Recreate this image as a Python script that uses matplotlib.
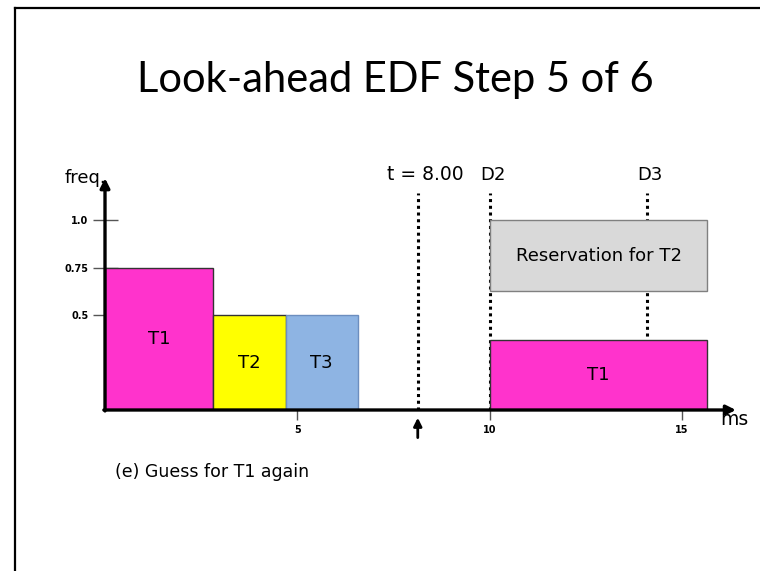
import matplotlib.pyplot as plt
from matplotlib.lines import Line2D

# data (time in ms, freq as fraction)
task_names = ["T1", "T2", "T3"]
task_starts = [0.0, 2.8, 4.7]
task_durations = [2.8, 1.9, 1.87]
task_freqs = [0.75, 0.5, 0.5]
task_colors = ["#FF33CC", "#FFFF00", "#8EB4E3"]
task_edges = ["#333333", "#333333", "#6C8EBF"]

# guess for T1 after D2, and the reservation kept for T2 above it
guess_start, guess_duration, guess_freq = 10.0, 5.66, 0.37
resv_start, resv_duration, resv_bottom, resv_top = 10.0, 5.66, 0.626, 1.0

now_label, now_pos = "t = 8.00", 8.13
deadline_labels = ["D2", "D3"]
deadline_pos = [10.0, 14.08]
marker_top = 1.142

xticks = [5, 10, 15]
yticks = [0.5, 0.75, 1.0]
ytick_labels = ["0.5", "0.75", "1.0"]

W, H = 760, 571
fig = plt.figure(figsize=(W / 100, H / 100), dpi=100)
plt.rcParams['font.family'] = ['DejaVu Sans']

# axes placed so 0 ms sits at px 105 and freq 0 at px 410
px_ms, px_unit = 38.47, 190.0
xmax, ymax = 16.6, 1.25
ax = fig.add_axes([105 / W, (H - 410) / H, xmax * px_ms / W, ymax * px_unit / H])
ax.set_xlim(0, xmax)
ax.set_ylim(0, ymax)
for s in ax.spines.values():
    s.set_visible(False)
ax.patch.set_alpha(0)

# executed tasks
for name, x0, w, f, c, ec in zip(task_names, task_starts, task_durations,
                                  task_freqs, task_colors, task_edges):
    ax.bar(x0, f, width=w, align='edge', color=c, edgecolor=ec, linewidth=1, zorder=3)
    ax.text(x0 + w / 2, f / 2, name, ha='center', va='center', fontsize=13, zorder=4)

# look-ahead guess + reservation
ax.bar(guess_start, guess_freq, width=guess_duration, align='edge',
       color="#FF33CC", edgecolor="#333333", linewidth=1, zorder=3)
ax.text(guess_start + guess_duration / 2, guess_freq / 2, "T1",
        ha='center', va='center', fontsize=13, zorder=4)
ax.bar(resv_start, resv_top - resv_bottom, width=resv_duration, bottom=resv_bottom,
       align='edge', color="#D9D9D9", edgecolor="#808080", linewidth=1, zorder=3)
ax.text(resv_start + resv_duration / 2, (resv_top + resv_bottom) / 2,
        "Reservation for T2", ha='center', va='center', fontsize=13, zorder=4)

# dotted markers
dots = (0, (1, 1.2))
ax.plot([now_pos, now_pos], [0, marker_top], color='black', lw=2.2, ls=dots, zorder=2)
ax.text(now_pos + 0.2, 1.237, now_label, ha='center', va='center', fontsize=13.5,
        clip_on=False)
for lab, xp in zip(deadline_labels, deadline_pos):
    ax.plot([xp, xp], [0, marker_top], color='black', lw=2.2, ls=dots, zorder=2)
    ax.text(xp + 0.08, 1.237, lab, ha='center', va='center', fontsize=13, clip_on=False)

# arrow marking "now" below the time axis
ax.annotate("", xy=(now_pos, -0.026), xytext=(now_pos, -0.16),
            arrowprops=dict(arrowstyle='-|>', color='black', lw=2, mutation_scale=12),
            annotation_clip=False)

# axes as arrows
ax.annotate("", xy=(0, 1.22), xytext=(0, -0.005),
            arrowprops=dict(arrowstyle='-|>', color='black', lw=2.4, mutation_scale=14,
                            shrinkA=0, shrinkB=0), annotation_clip=False, zorder=5)
ax.annotate("", xy=(16.4, 0), xytext=(-0.03, 0),
            arrowprops=dict(arrowstyle='-|>', color='black', lw=2.4, mutation_scale=14,
                            shrinkA=0, shrinkB=0), annotation_clip=False, zorder=5)
ax.text(-1.04, 1.22, "freq.", ha='left', va='center', fontsize=13, clip_on=False)
ax.text(15.99, -0.05, "ms", ha='left', va='center', fontsize=13.5, clip_on=False)

ax.set_xticks(xticks)
ax.set_xticklabels([str(t) for t in xticks], fontsize=7, fontweight='bold')
ax.set_yticks(yticks)
ax.set_yticklabels(ytick_labels, fontsize=7, fontweight='bold')
ax.tick_params(axis='y', direction='inout', length=18, width=1, color='#555555', pad=3)
ax.tick_params(axis='x', direction='out', length=7, width=1, color='#555555', pad=4)

# slide frame, title and caption
fig.add_artist(Line2D([15 / W, 1], [1 - 8 / H, 1 - 8 / H], color='black', lw=1.6))
fig.add_artist(Line2D([15 / W, 15 / W], [0, 1 - 8 / H], color='black', lw=1.6))
fig.text(395 / W, 1 - 80 / H, "Look-ahead EDF Step 5 of 6", ha='center', va='center',
         fontsize=30, family=['Lato', 'DejaVu Sans'])
fig.text(115 / W, 1 - 472 / H, "(e) Guess for T1 again", ha='left', va='center',
         fontsize=12.5)

fig.savefig("out.png", dpi=100)
